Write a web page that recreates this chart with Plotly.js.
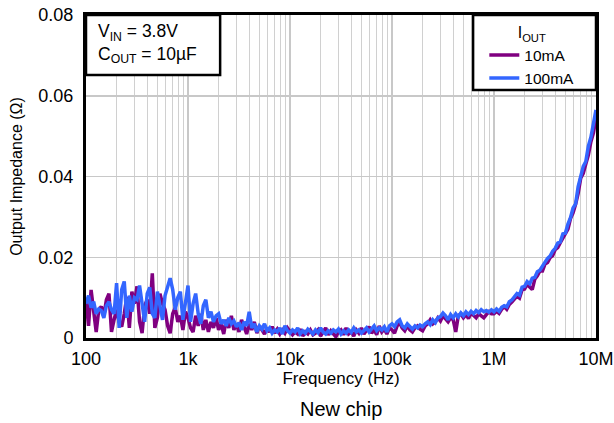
<!DOCTYPE html>
<html>
<head>
<meta charset="utf-8">
<script src="https://cdn.plot.ly/plotly-3.0.1.min.js"></script>
<style>html,body{margin:0;padding:0;background:#fff;}#chart{width:614px;height:423px;}</style>
</head>
<body>
<div id="chart"></div>
<script>
// Frequency points (Hz), 40 per decade, 100 Hz .. 10 MHz
const freqHz = [
100,105.9,112.2,118.9,125.9,133.4,141.3,149.6,158.5,167.9,177.8,188.4,199.5,211.3,223.9,237.1,251.2,266.1,281.8,298.5,316.2,335,354.8,375.8,398.1,421.7,446.7,473.2,501.2,530.9,562.3,595.7,631,668.3,707.9,749.9,794.3,841.4,891.3,944.1,
1000,1059,1122,1189,1259,1334,1413,1496,1585,1679,1778,1884,1995,2113,2239,2371,2512,2661,2818,2985,3162,3350,3548,3758,3981,4217,4467,4732,5012,5309,5623,5957,6310,6683,7079,7499,7943,8414,8913,9441,
1.0e4,1.059e4,1.122e4,1.189e4,1.259e4,1.334e4,1.413e4,1.496e4,1.585e4,1.679e4,1.778e4,1.884e4,1.995e4,2.113e4,2.239e4,2.371e4,2.512e4,2.661e4,2.818e4,2.985e4,3.162e4,3.35e4,3.548e4,3.758e4,3.981e4,4.217e4,4.467e4,4.732e4,5.012e4,5.309e4,5.623e4,5.957e4,6.31e4,6.683e4,7.079e4,7.499e4,7.943e4,8.414e4,8.913e4,9.441e4,
1.0e5,1.059e5,1.122e5,1.189e5,1.259e5,1.334e5,1.413e5,1.496e5,1.585e5,1.679e5,1.778e5,1.884e5,1.995e5,2.113e5,2.239e5,2.371e5,2.512e5,2.661e5,2.818e5,2.985e5,3.162e5,3.35e5,3.548e5,3.758e5,3.981e5,4.217e5,4.467e5,4.732e5,5.012e5,5.309e5,5.623e5,5.957e5,6.31e5,6.683e5,7.079e5,7.499e5,7.943e5,8.414e5,8.913e5,9.441e5,
1.0e6,1.059e6,1.122e6,1.189e6,1.259e6,1.334e6,1.413e6,1.496e6,1.585e6,1.679e6,1.778e6,1.884e6,1.995e6,2.113e6,2.239e6,2.371e6,2.512e6,2.661e6,2.818e6,2.985e6,3.162e6,3.35e6,3.548e6,3.758e6,3.981e6,4.217e6,4.467e6,4.732e6,5.012e6,5.309e6,5.623e6,5.957e6,6.31e6,6.683e6,7.079e6,7.499e6,7.943e6,8.414e6,8.913e6,9.441e6,
1.0e7
];

// Output impedance (ohm), IOUT = 10 mA
const z10mA = [
0.0095,0.0030,0.0119,0.0060,0.0015,0.0070,0.0078,0.0055,0.0095,0.0110,0.0015,0.0045,0.0070,0.0040,0.0028,0.0060,0.0102,0.0025,0.0115,0.0085,0.0128,0.0040,0.0012,0.0080,0.0095,0.0060,0.0160,0.0025,0.0050,0.0110,0.0085,0.0070,0.0030,0.0012,0.0060,0.0075,0.0040,0.0055,0.0020,0.0065,
0.0050,0.0025,0.0015,0.0055,0.0030,0.0060,0.0020,0.0045,0.0015,0.0040,0.0025,0.0050,0.0020,0.0035,0.0010,0.0045,0.0025,0.0055,0.0020,0.0035,0.0015,0.0045,0.0025,0.0010,0.0035,0.0020,0.0040,0.0012,0.0030,0.0018,0.0010,0.0025,0.0015,0.0028,0.0012,0.0022,0.0010,0.0020,0.0012,0.0025,
0.0018,0.0008,0.0015,0.0010,0.0022,0.0005,0.0015,0.0010,0.0020,0.0008,0.0012,0.0020,0.0005,0.0015,0.0025,0.0008,0.0018,0.0010,0.0003,0.0015,0.0020,0.0008,0.0025,0.0010,0.0015,0.0005,0.0020,0.0012,0.0025,0.0010,0.0018,0.0028,0.0012,0.0020,0.0008,0.0030,0.0015,0.0022,0.0010,0.0025,
0.0020,0.0012,0.0030,0.0038,0.0025,0.0018,0.0030,0.0020,0.0015,0.0025,0.0030,0.0022,0.0018,0.0030,0.0035,0.0045,0.0035,0.0040,0.0050,0.0042,0.0055,0.0048,0.0040,0.0050,0.0045,0.0015,0.0055,0.0060,0.0050,0.0058,0.0048,0.0062,0.0055,0.0050,0.0060,0.0055,0.0050,0.0058,0.0065,0.0060,
0.0060,0.0066,0.0061,0.0071,0.0078,0.0071,0.0083,0.0089,0.0096,0.0104,0.0099,0.0119,0.0121,0.0133,0.0126,0.0120,0.0146,0.0154,0.0166,0.0166,0.0183,0.0187,0.0199,0.0204,0.0219,0.0224,0.0236,0.0246,0.0256,0.0270,0.0296,0.0310,0.0331,0.0358,0.0396,0.0408,0.0431,0.0453,0.0486,0.0508,
0.0545
];

// Output impedance (ohm), IOUT = 100 mA
const z100mA = [
0.0085,0.0105,0.0075,0.0090,0.0060,0.0072,0.0068,0.0050,0.0080,0.0090,0.0070,0.0060,0.0136,0.0025,0.0120,0.0140,0.0050,0.0105,0.0065,0.0100,0.0095,0.0130,0.0085,0.0040,0.0110,0.0125,0.0060,0.0050,0.0115,0.0080,0.0045,0.0105,0.0128,0.0148,0.0120,0.0070,0.0100,0.0115,0.0045,0.0090,
0.0130,0.0040,0.0085,0.0110,0.0060,0.0035,0.0080,0.0095,0.0050,0.0065,0.0040,0.0055,0.0060,0.0035,0.0045,0.0030,0.0050,0.0035,0.0042,0.0028,0.0038,0.0020,0.0040,0.0030,0.0065,0.0025,0.0035,0.0015,0.0030,0.0022,0.0035,0.0018,0.0025,0.0012,0.0020,0.0015,0.0025,0.0010,0.0030,0.0018,
0.0012,0.0020,0.0015,0.0025,0.0010,0.0018,0.0012,0.0022,0.0015,0.0010,0.0020,0.0013,0.0025,0.0015,0.0010,0.0018,0.0012,0.0020,0.0015,0.0022,0.0010,0.0018,0.0012,0.0020,0.0014,0.0025,0.0015,0.0020,0.0012,0.0018,0.0025,0.0015,0.0022,0.0030,0.0018,0.0025,0.0020,0.0028,0.0015,0.0030,
0.0035,0.0028,0.0040,0.0045,0.0030,0.0025,0.0035,0.0028,0.0022,0.0030,0.0025,0.0032,0.0028,0.0035,0.0040,0.0033,0.0045,0.0038,0.0050,0.0053,0.0062,0.0055,0.0045,0.0058,0.0050,0.0060,0.0052,0.0062,0.0055,0.0065,0.0058,0.0066,0.0060,0.0068,0.0063,0.0070,0.0065,0.0068,0.0064,0.0070,
0.0065,0.0072,0.0066,0.0076,0.0080,0.0077,0.0090,0.0094,0.0102,0.0110,0.0106,0.0126,0.0128,0.0140,0.0134,0.0148,0.0150,0.0164,0.0168,0.0180,0.0188,0.0197,0.0203,0.0215,0.0222,0.0235,0.0238,0.0258,0.0260,0.0282,0.0298,0.0322,0.0332,0.0375,0.0400,0.0425,0.0437,0.0475,0.0497,0.0530,
0.0565
];

const seriesNames = ['10mA', '100mA'];
const xTickVals = [100, 1e3, 1e4, 1e5, 1e6, 1e7];
const xTickText = ['100', '1k', '10k', '100k', '1M', '10M'];
const yTickVals = [0, 0.02, 0.04, 0.06, 0.08];
const yTickText = ['0', '0.02', '0.04', '0.06', '0.08'];

const FONT = 'Liberation Sans, Arial, sans-serif';

const traces = [
  {x: freqHz, y: z10mA, name: seriesNames[0], type: 'scatter', mode: 'lines',
   line: {color: '#800080', width: 3.5}},
  {x: freqHz, y: z100mA, name: seriesNames[1], type: 'scatter', mode: 'lines',
   line: {color: '#3366FF', width: 3.5}}
];

const layout = {
  width: 614, height: 423,
  margin: {l: 86, r: 18, t: 15, b: 85},
  paper_bgcolor: '#fff', plot_bgcolor: '#fff',
  font: {family: FONT, size: 17, color: '#000'},
  showlegend: true,
  legend: {
    x: 0.781, xanchor: 'left', y: 0.992, yanchor: 'top',
    bgcolor: 'rgba(0,0,0,0)', borderwidth: 0,
    font: {family: FONT, size: 15.5, color: '#000'},
    title: {text: 'I<sub>OUT</sub>', side: 'top center', font: {family: FONT, size: 16, color: '#000'}},
    tracegroupgap: 0
  },
  xaxis: {
    type: 'log', range: [2, 7],
    tickvals: xTickVals, ticktext: xTickText,
    tickfont: {family: FONT, size: 18, color: '#000'},
    ticks: '', ticklabelstandoff: 2,
    showline: true, linecolor: '#000', linewidth: 3, mirror: true,
    showgrid: true, gridcolor: '#c8c8c8', gridwidth: 1.5,
    minor: {dtick: 'D1', showgrid: true, gridcolor: '#d0d0d0', gridwidth: 1.2, ticks: ''},
    zeroline: false,
    title: {text: 'Frequency (Hz)', font: {family: FONT, size: 17, color: '#000'}, standoff: 1}
  },
  yaxis: {
    range: [0, 0.08],
    tickvals: yTickVals, ticktext: yTickText,
    tickfont: {family: FONT, size: 18, color: '#000'},
    ticks: '', ticklabelstandoff: 6,
    showline: true, linecolor: '#000', linewidth: 3, mirror: true,
    showgrid: true, gridcolor: '#c8c8c8', gridwidth: 1.5,
    zeroline: false,
    title: {text: 'Output Impedance (Ω)', font: {family: FONT, size: 16, color: '#000'}, standoff: 12}
  },
  shapes: [
    {type: 'rect', xref: 'paper', yref: 'paper', x0: 0, x1: 0.263, y0: 0.814, y1: 1,
     fillcolor: '#fff', line: {color: '#000', width: 2.5}, layer: 'above'},
    {type: 'rect', xref: 'paper', yref: 'paper', x0: 0.759, x1: 1, y0: 0.768, y1: 1,
     fillcolor: '#fff', line: {color: '#000', width: 2.5}, layer: 'above'}
  ],
  annotations: [
    {xref: 'paper', yref: 'paper', x: 0.019, y: 0.987, xanchor: 'left', yanchor: 'top',
     align: 'left', showarrow: false,
     text: 'V<sub>IN</sub> = 3.8V<br>C<sub>OUT</sub> = 10µF',
     font: {family: FONT, size: 17.5, color: '#000'}},
    {xref: 'paper', yref: 'paper', x: 0.5, y: -0.22, xanchor: 'center', yanchor: 'middle',
     showarrow: false, text: 'New chip',
     font: {family: FONT, size: 20, color: '#000'}}
  ]
};

Plotly.newPlot('chart', traces, layout, {displayModeBar: false, staticPlot: true});
</script>
</body>
</html>
